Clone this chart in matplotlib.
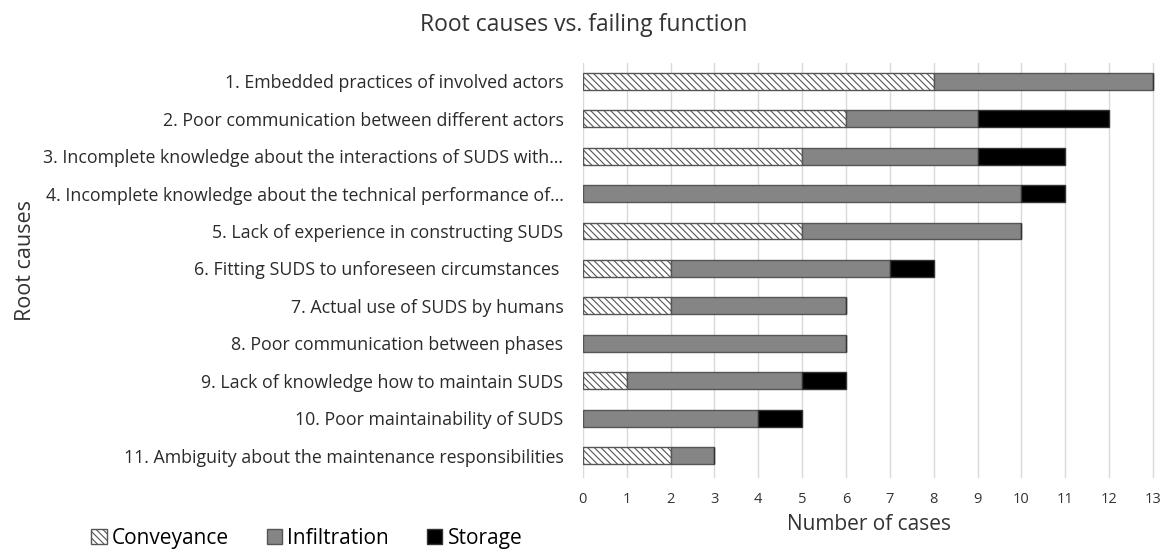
import matplotlib
matplotlib.use("Agg")
import matplotlib.pyplot as plt
import numpy as np

plt.rcParams['font.family'] = ['Open Sans', 'DejaVu Sans']
plt.rcParams['hatch.color'] = '#8a8a8a'
plt.rcParams['hatch.linewidth'] = 0.8

causes = [
    "1. Embedded practices of involved actors",
    "2. Poor communication between different actors",
    "3. Incomplete knowledge about the interactions of SUDS with\u2026",
    "4. Incomplete knowledge about the technical performance of\u2026",
    "5. Lack of experience in constructing SUDS",
    "6. Fitting SUDS to unforeseen circumstances ",
    "7. Actual use of SUDS by humans",
    "8. Poor communication between phases",
    "9. Lack of knowledge how to maintain SUDS",
    "10. Poor maintainability of SUDS",
    "11. Ambiguity about the maintenance responsibilities",
]
conveyance = [8, 6, 5, 0, 5, 2, 2, 0, 1, 0, 2]
infiltration = [5, 3, 4, 10, 5, 5, 4, 6, 4, 4, 1]
storage = [0, 3, 2, 1, 0, 1, 0, 0, 1, 1, 0]

fig = plt.figure(figsize=(11.68, 5.54), dpi=100)
ax = fig.add_axes([0.499, 0.137, 0.49, 0.75])

y = np.arange(len(causes))
h = 0.45
conv = np.array(conveyance)
inf = np.array(infiltration)
sto = np.array(storage)

ax.barh(y, conv, h, color='white', edgecolor='#555555', hatch='\\\\\\\\\\', linewidth=1, label='Conveyance', zorder=3)
ax.barh(y, inf, h, left=conv, color='#858585', edgecolor='#555555', linewidth=1, label='Infiltration', zorder=3)
ax.barh(y, sto, h, left=conv + inf, color='black', edgecolor='#333333', linewidth=1, label='Storage', zorder=3)

ax.set_yticks(y)
ax.set_yticklabels(causes, fontsize=12.8, color='#2a2a2a')
ax.set_ylim(len(causes) - 0.4, -0.5)
ax.set_xlim(0, 13.05)
ax.set_xticks(range(14))
ax.tick_params(axis='x', labelsize=10.5, colors='#333333', length=0, pad=10)
ax.tick_params(axis='y', length=0, pad=14)
ax.grid(axis='x', color='#d9d9d9', linewidth=1, zorder=0)
for s in ax.spines.values():
    s.set_visible(False)

ax.set_xlabel('Number of cases', fontsize=15, color='#333333', labelpad=5)
fig.text(0.013, 0.53, 'Root causes', rotation=90, fontsize=15.5, color='#333333', va='center', ha='left')
fig.text(0.5, 0.955, 'Root causes vs. failing function', fontsize=16.5, color='#333333', ha='center', va='center')

fig.legend(loc='lower left', bbox_to_anchor=(0.062, -0.025), ncol=3, frameon=False,
           fontsize=15, handlelength=0.75, handleheight=0.75, handletextpad=0.25, columnspacing=1.8)

fig.savefig('out.png', dpi=100, facecolor='white')
